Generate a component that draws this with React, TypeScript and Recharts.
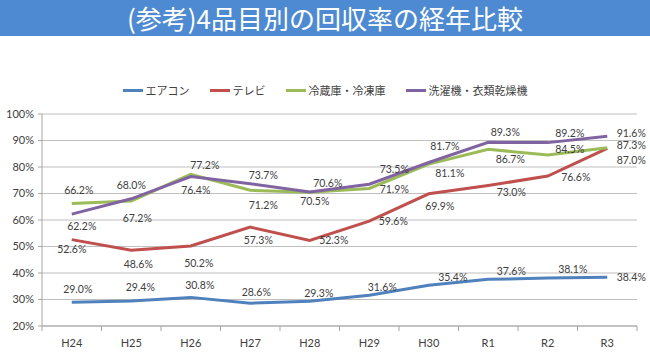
import React from "react";
import { LineChart, Line, XAxis, YAxis, CartesianGrid, Legend, LabelList } from "recharts";

const years = ["H24", "H25", "H26", "H27", "H28", "H29", "H30", "R1", "R2", "R3"];
const aircon = [29.0, 29.4, 30.8, 28.6, 29.3, 31.6, 35.4, 37.6, 38.1, 38.4];
const tv = [52.6, 48.6, 50.2, 57.3, 52.3, 59.6, 69.9, 73.0, 76.6, 87.0];
const fridge = [66.2, 67.2, 77.2, 71.2, 70.5, 71.9, 81.1, 86.7, 84.5, 87.3];
const washer = [62.2, 68.0, 76.4, 73.7, 70.6, 73.5, 81.7, 89.3, 89.2, 91.6];
const yTicks = [20, 30, 40, 50, 60, 70, 80, 90, 100];

const seriesNames = ["エアコン", "テレビ", "冷蔵庫・冷凍庫", "洗濯機・衣類乾燥機"];
const seriesColors = ["#4F81BD", "#C0504D", "#9BBB59", "#8064A2"];

// label placement (offset of label centre from the point), kept apart from data
const airconLabelOff = [[6, -13], [9, -14], [9, -12], [6, -11], [9, -8], [13, -8], [24, -8], [23, -8], [25, -9], [24, 0]];
const tvLabelOff = [[0, 9], [7, 14], [8, 17], [8, 13], [24, 0], [24, 0], [11, 12], [23, 6], [28, 1], [24, 12]];
const fridgeLabelOff = [[7, -14], [6, 17], [14, -9], [13, 15], [5, 9], [25, 1], [21, 9], [22, 10], [22, -6], [24, -3]];
const washerLabelOff = [[10, 12], [0, -14], [5, 13], [13, -9], [18, -9], [25, -15], [16, -16], [17, -10], [22, -10], [24, -3]];

const data = years.map((y, i) => ({
  year: y,
  aircon: aircon[i],
  tv: tv[i],
  fridge: fridge[i],
  washer: washer[i],
}));

const makeLabel = (offs: number[][]) => (props: any) => {
  const { x, y, value, index } = props;
  if (x == null || y == null) return null;
  const o = offs[index] || [0, -10];
  return (
    <text
      x={x + o[0]}
      y={y + o[1]}
      textAnchor="middle"
      dominantBaseline="central"
      fontSize={10.5}
      fontFamily="Lato, 'Liberation Sans', sans-serif"
      fill="#404040"
    >
      {Number(value).toFixed(1)}%
    </text>
  );
};

const HALF = 29.75;

const XTick = (props: any) => {
  const { x, y, payload, index } = props;
  const axisY = y - 11;
  return (
    <g>
      <line x1={x - HALF} y1={axisY} x2={x - HALF} y2={axisY + 5} stroke="#a6a6a6" />
      {index === years.length - 1 && (
        <line x1={x + HALF} y1={axisY} x2={x + HALF} y2={axisY + 5} stroke="#a6a6a6" />
      )}
      <text
        x={x}
        y={axisY + 16}
        textAnchor="middle"
        dominantBaseline="central"
        fontSize={11}
        fontFamily="Lato, 'Liberation Sans', sans-serif"
        fill="#404040"
      >
        {payload.value}
      </text>
    </g>
  );
};

const LegendContent = () => (
  <div
    style={{
      display: "flex",
      justifyContent: "center",
      alignItems: "center",
      fontFamily: "'Noto Sans CJK JP', sans-serif",
      fontSize: 11,
      color: "#404040",
      width: 650,
    }}
  >
    {seriesNames.map((n, i) => (
      <div key={n} style={{ display: "flex", alignItems: "center", marginRight: i < 3 ? 20 : 0 }}>
        <div style={{ width: 20, height: 3, background: seriesColors[i], marginRight: 3 }} />
        <span>{n}</span>
      </div>
    ))}
  </div>
);

export default function App() {
  return (
    <div style={{ position: "absolute", left: 0, top: 0, width: 650, height: 352, background: "#fff", overflow: "hidden" }}>
      <div
        style={{
          position: "absolute",
          left: 0,
          top: 0,
          width: 650,
          height: 36,
          background: "#4E8AD2",
          zIndex: 2,
          display: "flex",
          alignItems: "center",
          justifyContent: "center",
        }}
      >
        <span
          style={{
            color: "#fff",
            fontFamily: "'Noto Sans CJK JP', sans-serif",
            fontSize: 26,
            lineHeight: "30px",
            whiteSpace: "nowrap",
          }}
        >
          (参考)4品目別の回収率の経年比較
        </span>
      </div>
      <div style={{ position: "absolute", left: 0, top: 0 }}>
        <LineChart width={650} height={352} data={data} margin={{ top: 114, right: 13, bottom: 0, left: 0 }}>
          <CartesianGrid horizontal vertical={false} stroke="#bfbfbf" />
          <XAxis
            dataKey="year"
            padding={{ left: HALF, right: HALF }}
            height={26}
            tickSize={5}
            tickMargin={6}
            tickLine={false}
            axisLine={{ stroke: "#a6a6a6" }}
            tick={<XTick />}
            interval={0}
          />
          <YAxis
            domain={[20, 100]}
            ticks={yTicks}
            width={42}
            tickSize={4}
            tickMargin={4}
            tickFormatter={(v: number) => `${v}%`}
            tick={{ fontSize: 11, fill: "#404040", fontFamily: "Lato, 'Liberation Sans', sans-serif" }}
            axisLine={{ stroke: "#a6a6a6" }}
            tickLine={{ stroke: "#a6a6a6" }}
            interval={0}
          />
          <Legend
            verticalAlign="middle"
            layout="horizontal"
            content={<LegendContent />}
            wrapperStyle={{ top: 82, left: 0, width: 650 }}
          />
          <Line dataKey="aircon" name={seriesNames[0]} stroke={seriesColors[0]} strokeWidth={3} dot={false} isAnimationActive={false}>
            <LabelList dataKey="aircon" content={makeLabel(airconLabelOff)} />
          </Line>
          <Line dataKey="tv" name={seriesNames[1]} stroke={seriesColors[1]} strokeWidth={3} dot={false} isAnimationActive={false}>
            <LabelList dataKey="tv" content={makeLabel(tvLabelOff)} />
          </Line>
          <Line dataKey="fridge" name={seriesNames[2]} stroke={seriesColors[2]} strokeWidth={3} dot={false} isAnimationActive={false}>
            <LabelList dataKey="fridge" content={makeLabel(fridgeLabelOff)} />
          </Line>
          <Line dataKey="washer" name={seriesNames[3]} stroke={seriesColors[3]} strokeWidth={3} dot={false} isAnimationActive={false}>
            <LabelList dataKey="washer" content={makeLabel(washerLabelOff)} />
          </Line>
        </LineChart>
      </div>
    </div>
  );
}
